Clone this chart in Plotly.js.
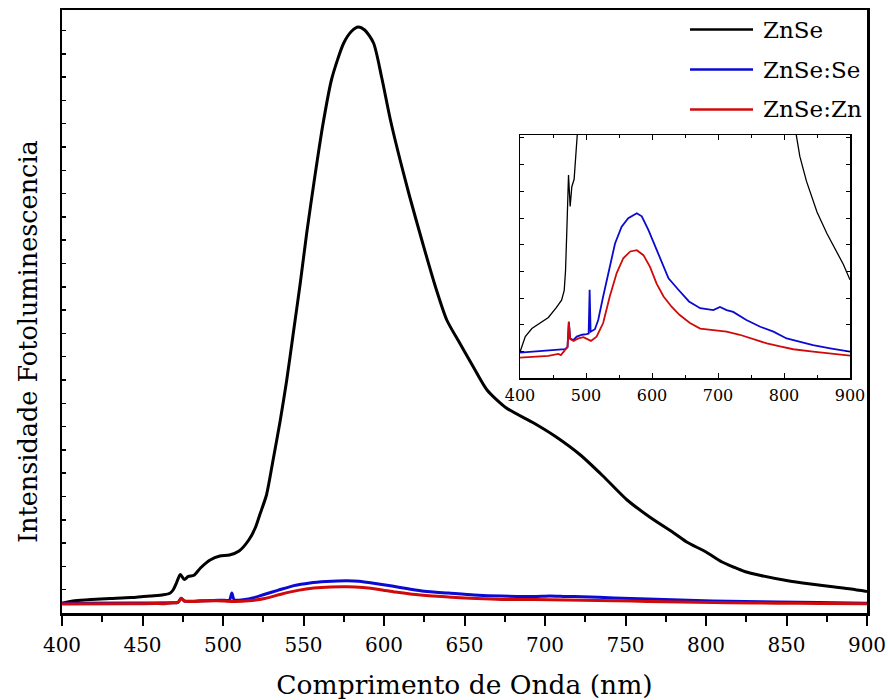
<!DOCTYPE html>
<html>
<head>
<meta charset="utf-8">
<script src="https://cdn.plot.ly/plotly-3.0.1.min.js"></script>
<style>html,body{margin:0;padding:0;background:#fff;}#plot{width:888px;height:700px;}</style>
</head>
<body>
<div id="plot"></div>
<script>
// Wavelength (nm) and photoluminescence intensity (arb. units)
const wl_ZnSe = [400,408,418,430,443,455,463,467,469,471,473.5,476,478.5,482,486,492,498,504,510,516,520,523,527,531,535.5,539.5,543.5,548,552,557,562,567.5,575,580,584,588,593.5,598.5,604,610,616,624,632,639,647,655.5,664,676,693,707,722,736,751,765,780,788,800,810,817,824,834,850,865,880,890,900];
const I_ZnSe  = [9.8,12.3,13.6,14.5,15.4,17.0,18.2,19.8,23,29.6,38.5,33.4,36.6,37.8,45,53,57,58,62,73,85,99,118,152,192,232,278,330,380,436,488,534,570,582,586,583,570,536,493,453,416,370,326,293,270,246,223,205,190,176,158,137,113,96,80,71,61,51,46,41.5,37.5,32.5,29,26,24,21.5];

const wl_ZnSeSe = [400,443,468,472,474,476,481,486,494,501,504,505.5,507,513.5,518.5,526,534,544,554,564,577,584.5,594.5,605,615,625,640,656,673,693,703,713,723,743,764,784,804,824,844,870,900];
const I_ZnSeSe  = [9.7,10.0,10.25,10.6,14.7,12.0,11.75,12.3,12.6,12.7,12.8,19.9,13.1,13.5,15.0,18.8,22.6,27.4,30.1,31.5,32.3,31.8,29.6,26.9,24.2,21.75,19.9,18.0,16.9,16.6,17.1,16.6,16.3,15.0,13.9,13.1,12.0,11.5,10.9,10.4,9.85];

const wl_ZnSeZn = [400,443,458,462,468,472,474,476,481,488.5,496,501,507.5,516,526,536,546.5,556.5,567,577,587,597,607,617.5,630,642,657.5,673,693,713,733,753.5,774,794,814,844,870,900];
const I_ZnSeZn  = [8.9,9.16,9.5,9.3,10.1,10.6,14.7,11.9,11.6,12.0,12.2,11.9,11.6,12.3,14.5,18.8,22.6,25.0,26.1,26.3,25.5,23.6,20.9,18.8,17.1,15.8,14.5,13.6,13.4,13.1,12.6,11.9,11.2,10.7,10.25,9.85,9.6,9.2];

const seriesNames = ['ZnSe','ZnSe:Se','ZnSe:Zn'];
const seriesColors = ['#000000','#0a0ad0','#d00a0a'];

const xTitle = 'Comprimento de Onda (nm)';
const yTitle = 'Intensidade Fotoluminescencia';

const FONT = 'DejaVu Serif, Liberation Serif, serif';

const xs = [wl_ZnSe, wl_ZnSeSe, wl_ZnSeZn];
const ys = [I_ZnSe, I_ZnSeSe, I_ZnSeZn];

const traces = [];
// main plot
for (let i = 0; i < 3; i++) {
  traces.push({x: xs[i], y: ys[i], type: 'scatter', mode: 'lines', name: seriesNames[i],
    line: {color: seriesColors[i], width: 3, shape: 'spline', smoothing: 0.7},
    xaxis: 'x', yaxis: 'y', showlegend: false, hoverinfo: 'skip'});
}
// inset (same data, zoomed y)
const insetWidths = [1.3, 1.8, 1.8];
for (let i = 0; i < 3; i++) {
  traces.push({x: xs[i], y: ys[i], type: 'scatter', mode: 'lines', name: seriesNames[i],
    line: {color: seriesColors[i], width: insetWidths[i]}, xaxis: 'x2', yaxis: 'y2', showlegend: false, hoverinfo: 'skip'});
}

// custom legend and y title (paper coordinates)
const L0 = 62, T0 = 10, W = 805, H = 603;
const px2x = p => (p - L0) / W;
const py2y = p => (T0 + H - p) / H;
const legendY = [29.5, 69.5, 109.5];
const shapes = [], annotations = [];
for (let i = 0; i < 3; i++) {
  shapes.push({type: 'line', xref: 'paper', yref: 'paper', x0: px2x(690), x1: px2x(753),
    y0: py2y(legendY[i]), y1: py2y(legendY[i]), line: {color: seriesColors[i], width: 2.5}});
  annotations.push({xref: 'paper', yref: 'paper', x: px2x(761), y: py2y(legendY[i]),
    xanchor: 'left', yanchor: 'middle', text: seriesNames[i], showarrow: false,
    font: {family: FONT, size: 23, color: '#000'}});
}
annotations.push({xref: 'paper', yref: 'paper', x: px2x(28), y: py2y(342), xanchor: 'center', yanchor: 'middle',
  textangle: -90, text: yTitle, showarrow: false, font: {family: FONT, size: 25.5, color: '#000'}});

const layout = {
  width: 888, height: 700,
  margin: {l: 62, r: 21, t: 10, b: 87},
  paper_bgcolor: '#fff', plot_bgcolor: 'rgba(0,0,0,0)',
  font: {family: FONT, color: '#000'},
  showlegend: false,
  xaxis: {
    domain: [0, 1], anchor: 'y', range: [400, 900], tickmode: 'linear', tick0: 400, dtick: 50,
    ticks: 'outside', ticklen: 10, tickwidth: 2, tickcolor: '#000',
    minor: {dtick: 25, ticks: 'outside', ticklen: 6, tickwidth: 2, tickcolor: '#000'},
    showline: true, linewidth: 2.5, linecolor: '#000', mirror: true,
    showgrid: false, zeroline: false, tickfont: {size: 20}, ticklabelstandoff: 2,
    title: {text: xTitle, font: {size: 26.5}, standoff: 20}
  },
  yaxis: {
    domain: [0, 1], anchor: 'x', range: [0, 603], tickmode: 'linear', tick0: 0, dtick: 23.3,
    ticks: 'inside', ticklen: 4, tickwidth: 1.5, tickcolor: '#000', showticklabels: false,
    showline: true, linewidth: 2.5, linecolor: '#000', mirror: true,
    showgrid: false, zeroline: false
  },
  xaxis3: {
    overlaying: 'x', side: 'top', anchor: 'y', range: [400, 900], tickmode: 'linear', tick0: 400, dtick: 25,
    ticks: 'inside', ticklen: 4, tickwidth: 1.5, tickcolor: '#000', showticklabels: false,
    showline: false, showgrid: false, zeroline: false
  },
  yaxis3: {
    overlaying: 'y', side: 'right', anchor: 'x', range: [0, 603], tickmode: 'linear', tick0: 0, dtick: 23.3,
    ticks: 'outside', ticklen: 4, tickwidth: 1.5, tickcolor: '#000', showticklabels: false,
    showline: false, showgrid: false, zeroline: false
  },
  xaxis2: {
    domain: [px2x(520), px2x(850)], anchor: 'y2', range: [400, 900], tickmode: 'linear', tick0: 400, dtick: 100,
    ticks: 'inside', ticklen: 5, tickwidth: 1, tickcolor: '#000',
    minor: {dtick: 50, ticks: 'inside', ticklen: 3, tickwidth: 1, tickcolor: '#000'},
    showline: true, linewidth: 1.5, linecolor: '#000', mirror: 'ticks',
    showgrid: false, zeroline: false, tickfont: {size: 16}, ticklabelstandoff: 2
  },
  yaxis2: {
    domain: [py2y(378.3), py2y(135)], anchor: 'x2', range: [5.54, 44.98], tickmode: 'linear', tick0: 5.54, dtick: 4.33,
    ticks: 'inside', ticklen: 4, tickwidth: 1, tickcolor: '#000', showticklabels: false,
    showline: true, linewidth: 1.5, linecolor: '#000', mirror: 'ticks',
    showgrid: false, zeroline: false
  },
  shapes: shapes,
  annotations: annotations
};

Plotly.newPlot('plot', traces, layout, {staticPlot: true, displayModeBar: false});
</script>
</body>
</html>
